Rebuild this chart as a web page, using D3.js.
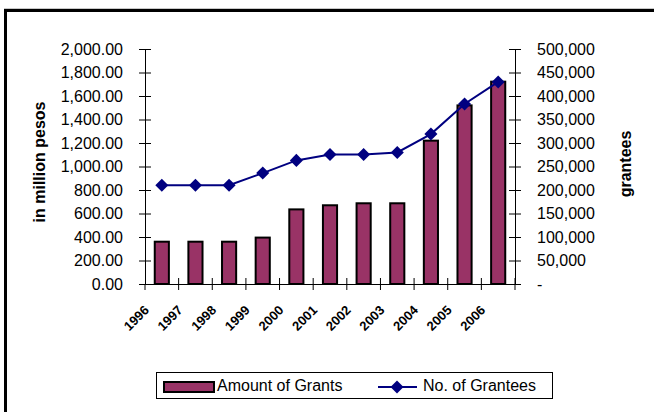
<!DOCTYPE html>
<html>
<head>
<meta charset="utf-8">
<script src="https://cdn.jsdelivr.net/npm/d3@7"></script>
<style>
  html, body { margin: 0; padding: 0; background: #fff; }
  svg { display: block; font-family: "Liberation Sans", Arial, sans-serif; }
</style>
</head>
<body>
<svg id="chart" width="654" height="412"></svg>
<script>
const years = ["1996","1997","1998","1999","2000","2001","2002","2003","2004","2005","2006"];
const grantAmounts = [360, 360, 360, 395, 635, 670, 687, 687, 1220, 1520, 1722];
const granteeCounts = [210000, 210000, 210000, 236000, 263000, 275500, 275500, 280000, 319000, 383000, 430000];
const leftTicks = [0, 200, 400, 600, 800, 1000, 1200, 1400, 1600, 1800, 2000];
const rightTicks = [0, 50000, 100000, 150000, 200000, 250000, 300000, 350000, 400000, 450000, 500000];
const seriesNames = ["Amount of Grants", "No. of Grantees"];

(function () {
const svg = d3.select("#chart");
const pLeft = 145, pRight = 515, pTop = 49, pBottom = 284;
const barColor = "#993366", lineColor = "#000080";

// frame
svg.append("line").attr("x1", 4).attr("x2", 654).attr("y1", 8.5).attr("y2", 8.5)
  .attr("stroke", "#c8c8c8").attr("stroke-width", 1);
svg.append("rect").attr("x", 5.5).attr("y", 10.5).attr("width", 700).attr("height", 500)
  .attr("fill", "none").attr("stroke", "#000").attr("stroke-width", 3);

const x = d3.scaleBand().domain(years).range([pLeft, pRight]).padding(0);
const yL = d3.scaleLinear().domain([0, 2000]).range([pBottom, pTop]);
const yR = d3.scaleLinear().domain([0, 500000]).range([pBottom, pTop]);

// bars
const bw = x.bandwidth() * 0.42;
svg.append("g").selectAll("rect").data(grantAmounts).join("rect")
  .attr("x", (d, i) => x(years[i]) + x.bandwidth() / 2 - bw / 2)
  .attr("y", d => yL(d))
  .attr("width", bw)
  .attr("height", d => pBottom - yL(d))
  .attr("fill", barColor).attr("stroke", "#000").attr("stroke-width", 2);

// left axis
const gL = svg.append("g").attr("transform", `translate(${pLeft},0)`)
  .call(d3.axisLeft(yL).tickValues(leftTicks).tickFormat(d3.format(",.2f")).tickSize(6).tickPadding(16));
gL.select(".domain").attr("stroke", "#000");
gL.selectAll(".tick line").attr("x1", 6).attr("x2", -6).attr("stroke", "#000");
gL.selectAll(".tick text").attr("font-size", 16).attr("fill", "#000").attr("font-family", "Liberation Sans, Arial, sans-serif");

// right axis
const gR = svg.append("g").attr("transform", `translate(${pRight},0)`)
  .call(d3.axisRight(yR).tickValues(rightTicks).tickFormat(d => d === 0 ? "-" : d3.format(",")(d)).tickSize(6).tickPadding(16));
gR.select(".domain").attr("stroke", "#000");
gR.selectAll(".tick line").attr("x1", -6).attr("x2", 6).attr("stroke", "#000");
gR.selectAll(".tick text").attr("font-size", 16).attr("fill", "#000").attr("font-family", "Liberation Sans, Arial, sans-serif");

// x axis
const gX = svg.append("g").attr("transform", `translate(0,${pBottom})`)
  .call(d3.axisBottom(x).tickSize(0).tickPadding(0));
gX.select(".domain").attr("stroke", "#000");
gX.selectAll(".tick text").remove();
const bounds = years.map(d => x(d)).concat([pRight]);
svg.append("g").selectAll("line").data(bounds).join("line")
  .attr("x1", d => d).attr("x2", d => d)
  .attr("y1", (d, i) => i === 0 ? pBottom : pBottom - 6).attr("y2", pBottom + 6)
  .attr("stroke", "#000");

svg.append("g").selectAll("text").data(years).join("text")
  .attr("transform", d => `translate(${x(d) + x.bandwidth() / 2 - 12},${pBottom + 27}) rotate(-45)`)
  .attr("text-anchor", "end")
  .attr("font-size", 13).attr("font-weight", "bold")
  .text(d => d);

// line series
const line = d3.line().x((d, i) => x(years[i]) + x.bandwidth() / 2).y(d => yR(d));
svg.append("path").datum(granteeCounts).attr("d", line)
  .attr("fill", "none").attr("stroke", lineColor).attr("stroke-width", 2);
const diamond = d3.symbol().type(d3.symbolSquare).size(85);
svg.append("g").selectAll("path").data(granteeCounts).join("path")
  .attr("d", diamond)
  .attr("transform", (d, i) => `translate(${x(years[i]) + x.bandwidth() / 2},${yR(d)}) rotate(45)`)
  .attr("fill", lineColor);

// axis titles
svg.append("text").attr("transform", "translate(45,162) rotate(-90)")
  .attr("text-anchor", "middle").attr("font-size", 16).attr("font-weight", "bold")
  .text("in million pesos");
svg.append("text").attr("transform", "translate(631,164) rotate(-90)")
  .attr("text-anchor", "middle").attr("font-size", 16).attr("font-weight", "bold")
  .text("grantees");

// legend
svg.append("rect").attr("x", 156.5).attr("y", 372.5).attr("width", 396).attr("height", 26)
  .attr("fill", "#fff").attr("stroke", "#000").attr("stroke-width", 1);
svg.append("rect").attr("x", 164).attr("y", 382).attr("width", 50).attr("height", 10)
  .attr("fill", barColor).attr("stroke", "#000").attr("stroke-width", 2);
svg.append("text").attr("x", 217).attr("y", 391).attr("font-size", 16).text(seriesNames[0]);
svg.append("line").attr("x1", 378).attr("x2", 417).attr("y1", 387).attr("y2", 387)
  .attr("stroke", lineColor).attr("stroke-width", 2);
svg.append("path").attr("d", diamond).attr("transform", "translate(397,387) rotate(45)").attr("fill", lineColor);
svg.append("text").attr("x", 423).attr("y", 391).attr("font-size", 16).text(seriesNames[1]);
})();
</script>
</body>
</html>
